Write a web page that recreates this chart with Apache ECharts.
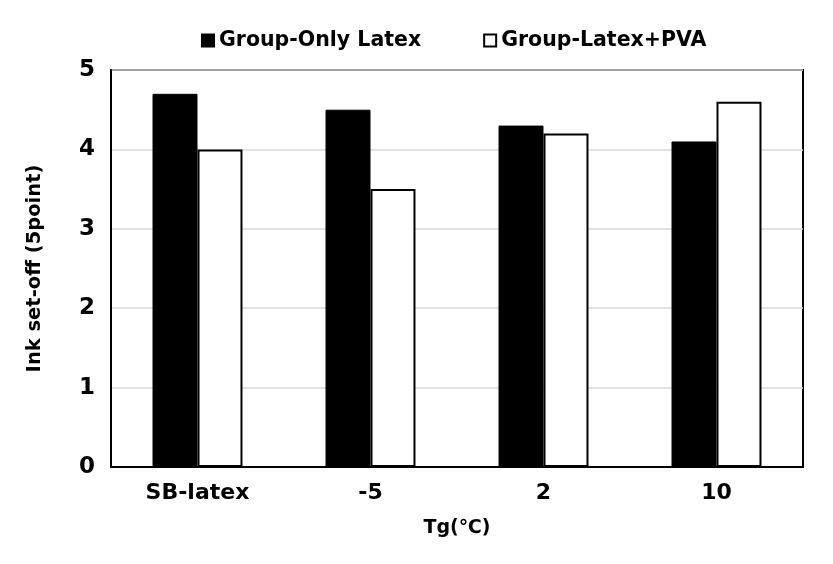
<!DOCTYPE html>
<html><head><meta charset="utf-8">
<script src="https://cdn.jsdelivr.net/npm/echarts@6/dist/echarts.min.js"></script>
<style>html,body{margin:0;padding:0;background:#fff}#c{width:833px;height:564px}</style>
</head><body><div id="c"></div>
<script>
const categories = ['SB-latex', '-5', '2', '10'];
const onlyLatex = [4.7, 4.5, 4.3, 4.1];
const latexPVA = [4.0, 3.5, 4.2, 4.6];
const yTicks = [0, 1, 2, 3, 4, 5];
const seriesNames = ['Group-Only Latex', 'Group-Latex+PVA'];
const FONT = '"DejaVu Sans", sans-serif';

const chart = echarts.init(document.getElementById('c'));
chart.setOption({
  animation: false,
  textStyle: {fontFamily: FONT},
  legend: {
    top: 25, left: 196, itemGap: 62, itemWidth: 12, itemHeight: 12, icon: 'rect',
    textStyle: {fontSize: 20.5, fontWeight: 'bold', color: '#000', fontFamily: FONT},
    data: seriesNames
  },
  grid: {left: 111, right: 30, top: 70, bottom: 97, show: true, borderColor: '#000', borderWidth: 2, backgroundColor: 'transparent'},
  xAxis: {
    type: 'category', data: categories,
    name: 'Tg(℃)', nameLocation: 'middle', nameGap: 52,
    nameTextStyle: {fontSize: 19, fontWeight: 'bold', color: '#000', fontFamily: FONT},
    axisLine: {lineStyle: {color: '#000', width: 2}},
    axisTick: {show: false},
    axisLabel: {fontSize: 22, fontWeight: 'bold', color: '#000', margin: 15, fontFamily: FONT}
  },
  yAxis: {
    type: 'value', min: 0, max: 5, interval: 1,
    name: 'Ink set-off (5point)', nameLocation: 'middle', nameGap: 66,
    nameTextStyle: {fontSize: 19.5, fontWeight: 'bold', color: '#000', fontFamily: FONT},
    axisLine: {show: true, lineStyle: {color: '#000', width: 2}},
    axisTick: {show: false},
    axisLabel: {fontSize: 23, fontWeight: 'bold', color: '#000', margin: 16, fontFamily: FONT,
      formatter: v => yTicks.includes(v) ? String(v) : ''},
    splitLine: {lineStyle: {color: '#d9d9d9', width: 1.5}}
  },
  series: [
    {name: seriesNames[0], type: 'bar', data: onlyLatex, barGap: '0%', barCategoryGap: '48%',
     itemStyle: {color: '#000', borderColor: '#000', borderWidth: 1}},
    {name: seriesNames[1], type: 'bar', data: latexPVA,
     itemStyle: {color: '#fff', borderColor: '#000', borderWidth: 2}}
  ]
});
</script></body></html>
